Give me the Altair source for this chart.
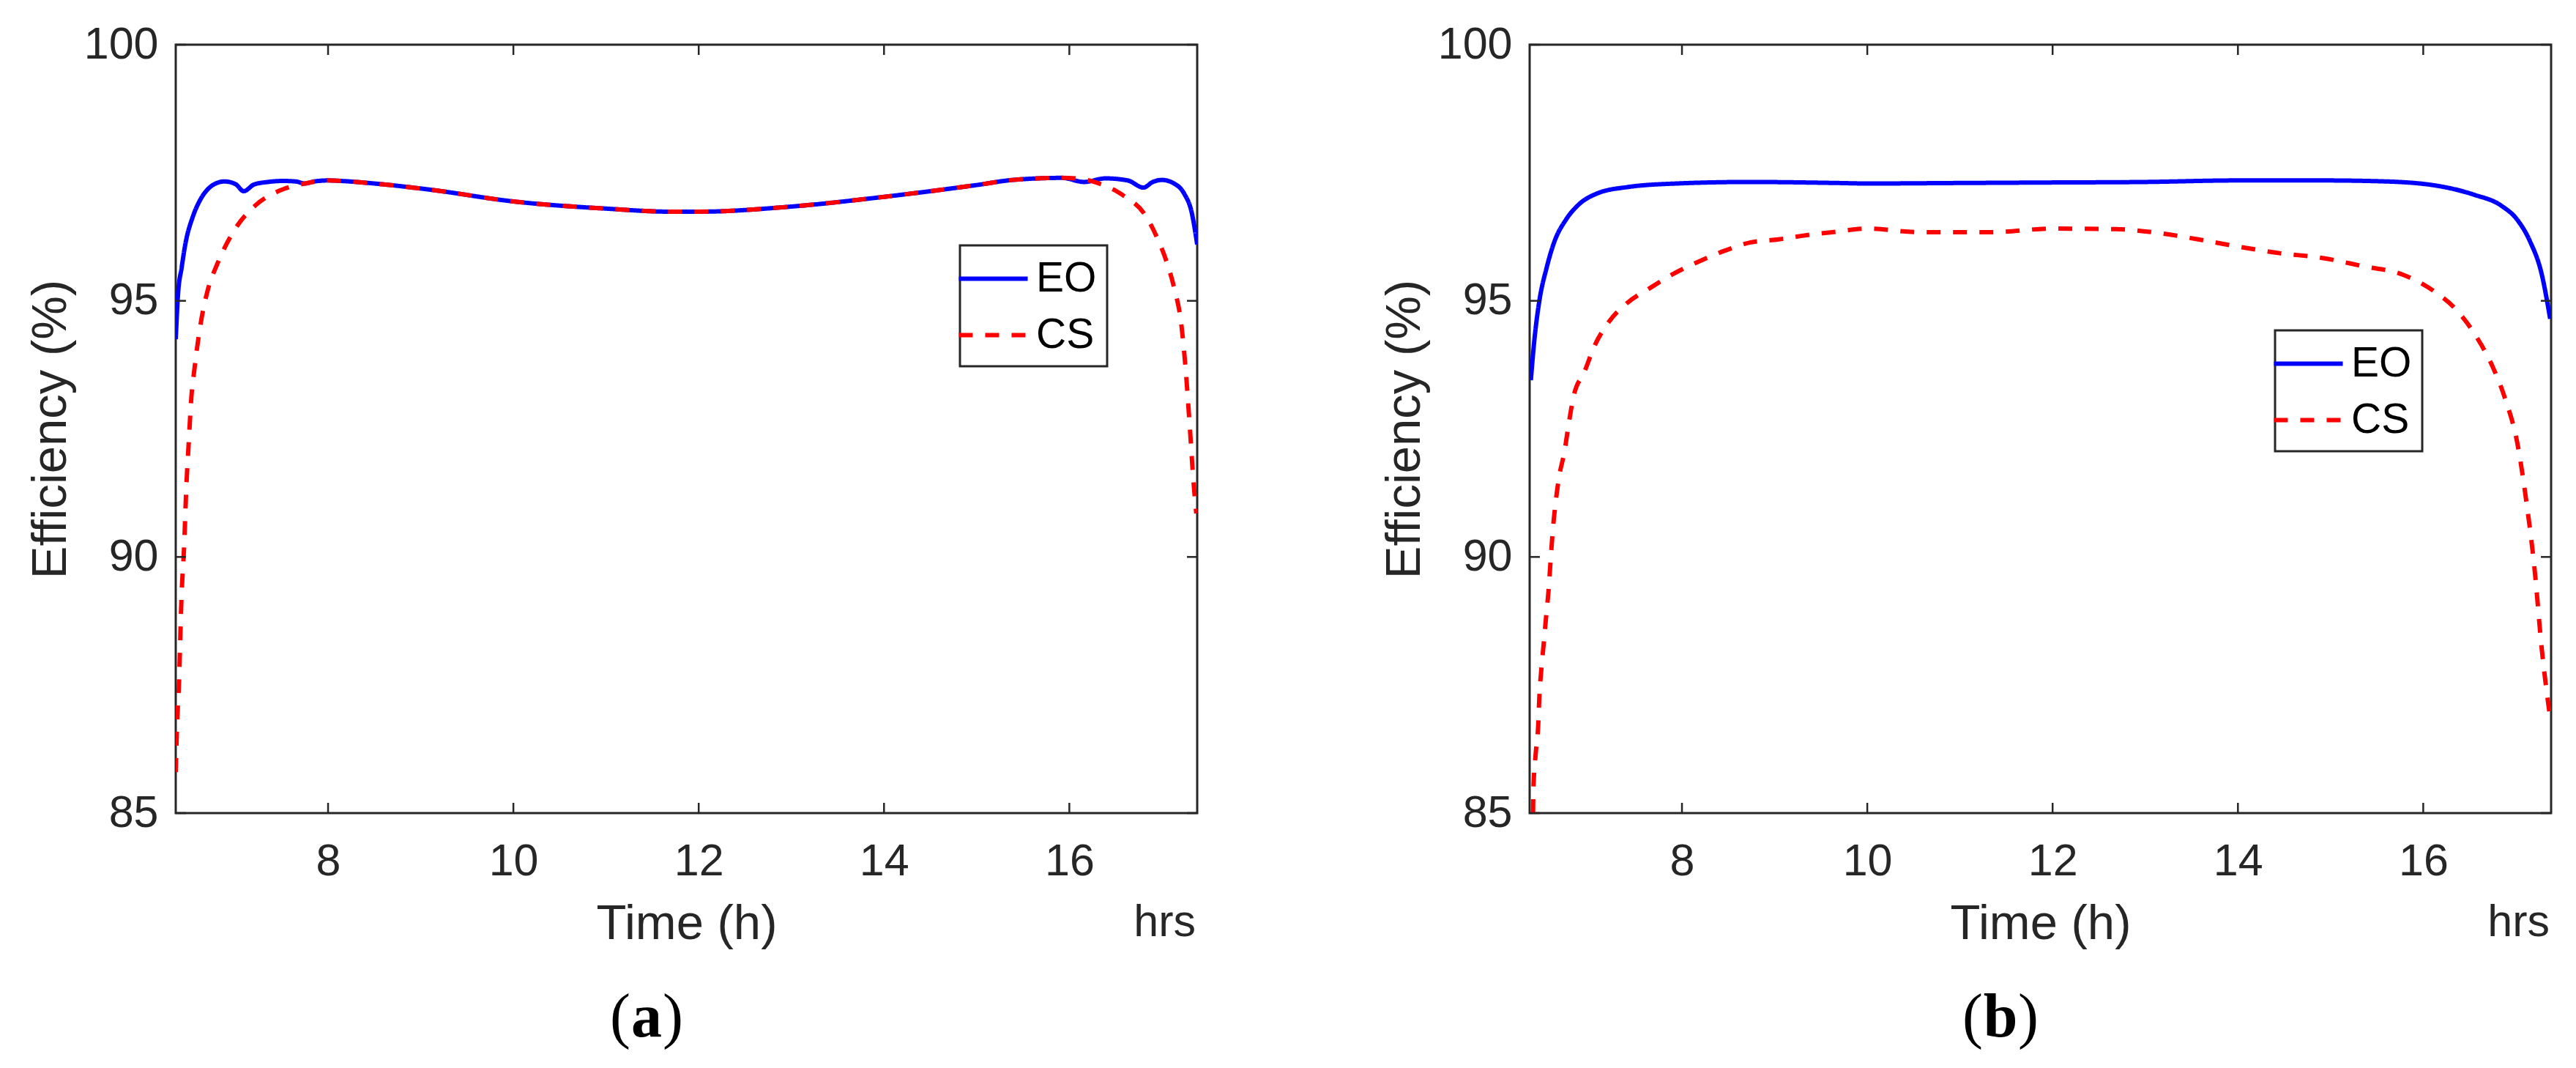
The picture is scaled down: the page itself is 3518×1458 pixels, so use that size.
import altair as alt
import pandas as pd

# ---------------- data ----------------
# panel (a)
ta_eo = [6.356, 6.38, 6.42, 6.46, 6.54, 6.62, 6.72, 6.80, 6.88, 7.00, 7.09, 7.20, 7.35, 7.51, 7.65, 7.75,
         7.85, 8.00, 8.14, 8.50, 9.10, 10.0, 11.0, 11.7, 12.0, 13.0, 14.0, 15.0, 15.39, 15.92, 16.16,
         16.39, 16.63, 16.80, 16.90, 17.00, 17.13, 17.24, 17.32, 17.38]
va_eo = [94.25, 95.11, 95.65, 96.11, 96.64, 96.97, 97.21, 97.30, 97.33, 97.28, 97.14, 97.27, 97.32, 97.34,
         97.33, 97.29, 97.33, 97.35, 97.34, 97.29, 97.17, 96.94, 96.80, 96.74, 96.74, 96.84, 97.03, 97.26,
         97.36, 97.40, 97.32, 97.39, 97.35, 97.21, 97.32, 97.36, 97.29, 97.09, 96.73, 96.10]
ta_cs = [6.356, 6.37, 6.39, 6.42, 6.445, 6.47, 6.50, 6.52, 6.56, 6.62, 6.70, 6.80, 6.91, 7.01, 7.22, 7.49,
         7.75, 8.00, 8.14, 8.50, 9.10, 10.0, 11.0, 11.7, 12.0, 13.0, 14.0, 15.0, 15.39, 15.92, 16.16, 16.32,
         16.58, 16.82, 16.95, 17.05, 17.13, 17.21, 17.26, 17.30, 17.34, 17.37]
va_cs = [85.8, 86.7, 87.5, 89.3, 90.15, 91.35, 92.35, 93.0, 93.7, 94.5, 95.2, 95.7, 96.13, 96.44, 96.87,
         97.16, 97.29, 97.35, 97.34, 97.29, 97.17, 96.94, 96.80, 96.74, 96.74, 96.84, 97.03, 97.26, 97.36,
         97.40, 97.37, 97.29, 97.06, 96.67, 96.22, 95.76, 95.26, 94.52, 93.56, 92.54, 91.47, 90.85]

# panel (b)
tb_eo = [6.369, 6.409, 6.461, 6.54, 6.62, 6.75, 6.88, 7.09, 7.41, 7.94, 8.73, 9.68, 10.0, 11.0, 12.0, 13.0,
         14.0, 14.9, 15.6, 16.2, 16.55, 16.84, 17.02, 17.15, 17.28, 17.37]
vb_eo = [93.45, 94.27, 95.00, 95.65, 96.14, 96.59, 96.87, 97.10, 97.22, 97.29, 97.32, 97.30, 97.29, 97.30,
         97.31, 97.32, 97.35, 97.35, 97.33, 97.23, 97.07, 96.86, 96.57, 96.17, 95.51, 94.65]
tb_cs = [6.393, 6.396, 6.422, 6.448, 6.461, 6.482, 6.509, 6.535, 6.562, 6.580, 6.606, 6.633, 6.672, 6.733,
         6.778, 6.830, 6.949, 7.054, 7.212, 7.41, 7.647, 7.911, 8.187, 8.464, 8.741, 9.044, 9.334, 9.623,
         10.0, 10.56, 11.35, 12.0, 12.68, 13.12, 13.57, 14.0, 14.45, 14.9, 15.34, 15.78, 16.13, 16.35,
         16.57, 16.75, 16.88, 17.02, 17.11, 17.20, 17.28, 17.37]
vb_cs = [85.0, 85.44, 86.17, 86.70, 87.27, 87.80, 88.33, 88.86, 89.39, 89.87, 90.52, 91.01, 91.54, 92.07,
         92.60, 93.13, 93.62, 94.11, 94.59, 94.96, 95.24, 95.53, 95.77, 95.98, 96.14, 96.20, 96.28, 96.34,
         96.41, 96.34, 96.34, 96.41, 96.40, 96.33, 96.20, 96.06, 95.93, 95.84, 95.68, 95.51, 95.17, 94.84,
         94.31, 93.71, 93.11, 92.18, 91.12, 89.79, 88.19, 86.86]

series_names = ["EO", "CS"]
x_ticks = [8, 10, 12, 14, 16]
y_ticks = [85, 90, 95, 100]
x_domain = [6.356, 17.38]
y_domain = [85, 100]

# ---------------- style ----------------
FONT = "Liberation Sans"
SERIF = "Liberation Serif"
AX = "#262626"
W, H = 1395, 1049
TICK_LEN = 14


def panel(t_eo, v_eo, t_cs, v_cs, letter, leg_x, leg_y):
    d_eo = pd.DataFrame({"t": t_eo, "eff": v_eo, "series": "EO"})
    d_cs = pd.DataFrame({"t": t_cs, "eff": v_cs, "series": "CS"})
    xs = alt.Scale(domain=x_domain, nice=False, zero=False)
    ys = alt.Scale(domain=y_domain, nice=False, zero=False)
    legend = alt.Legend(
        orient="none", legendX=leg_x, legendY=leg_y, title=None,
        symbolType="M-1.65,0L1.65,0", symbolSize=3249, symbolStrokeWidth=6,
        labelFont=FONT, labelFontSize=57, labelColor="black", labelOffset=27,
        strokeColor=AX, fillColor="white", padding=14, rowPadding=17,
    )
    color = alt.Color("series:N", scale=alt.Scale(domain=series_names, range=["#0000FF", "#FF0000"]),
                      legend=legend)
    dash = alt.StrokeDash("series:N", scale=alt.Scale(domain=series_names, range=[[1, 0], [19, 17]]),
                          legend=legend)
    xaxis = alt.Axis(
        values=x_ticks, ticks=False, domain=False, grid=False, title="Time (h)",
        labelFontSize=61, labelPadding=36, labelColor=AX, labelFont=FONT,
        titleFontSize=67, titleFont=FONT, titleColor=AX, titleFontWeight="normal", titlePadding=22)
    yaxis = alt.Axis(
        values=y_ticks, ticks=False, domain=False, grid=False, title="Efficiency (%)",
        labelFontSize=61, labelPadding=24, labelColor=AX, labelFont=FONT,
        titleFontSize=67, titleFont=FONT, titleColor=AX, titleFontWeight="normal", titlePadding=11)
    xenc = alt.X("t:Q", scale=xs, axis=xaxis)
    yenc = alt.Y("eff:Q", scale=ys, axis=yaxis)

    line_eo = alt.Chart(d_eo).mark_line(strokeWidth=6, interpolate="monotone", clip=True).encode(
        x=xenc, y=yenc, color=color, strokeDash=dash)
    line_cs = alt.Chart(d_cs).mark_line(strokeWidth=6, interpolate="monotone", clip=True,
                                        strokeCap="butt").encode(
        x=xenc, y=yenc, color=color, strokeDash=dash)

    xt = pd.DataFrame({"t": x_ticks})
    yt = pd.DataFrame({"eff": y_ticks})
    tick_bottom = alt.Chart(xt).mark_rule(color=AX, strokeWidth=2.5).encode(
        x=xenc, y=alt.value(H), y2=alt.value(H - TICK_LEN))
    tick_top = alt.Chart(xt).mark_rule(color=AX, strokeWidth=2.5).encode(
        x=xenc, y=alt.value(0), y2=alt.value(TICK_LEN))
    tick_left = alt.Chart(yt).mark_rule(color=AX, strokeWidth=2.5).encode(
        y=yenc, x=alt.value(0), x2=alt.value(TICK_LEN))
    tick_right = alt.Chart(yt).mark_rule(color=AX, strokeWidth=2.5).encode(
        y=yenc, x=alt.value(W - TICK_LEN), x2=alt.value(W))

    hrs = alt.Chart(pd.DataFrame({"s": ["hrs"]})).mark_text(
        align="right", baseline="alphabetic", font=FONT, fontSize=61, color=AX).encode(
        x=alt.value(W - 2), y=alt.value(1217), text="s:N")

    cx = 643
    half = 21 if letter == "a" else 23
    cap_l = alt.Chart(pd.DataFrame({"s": ["("]})).mark_text(
        align="right", baseline="alphabetic", font=SERIF, fontSize=84, color="black").encode(
        x=alt.value(cx - half - 1), y=alt.value(1354), text="s:N")
    cap_m = alt.Chart(pd.DataFrame({"s": [letter]})).mark_text(
        align="center", baseline="alphabetic", font=SERIF, fontSize=84, fontWeight="bold",
        color="black").encode(x=alt.value(cx), y=alt.value(1354), text="s:N")
    cap_r = alt.Chart(pd.DataFrame({"s": [")"]})).mark_text(
        align="left", baseline="alphabetic", font=SERIF, fontSize=84, color="black").encode(
        x=alt.value(cx + half + 1), y=alt.value(1354), text="s:N")

    return alt.layer(line_eo, line_cs, tick_bottom, tick_top, tick_left, tick_right,
                     hrs, cap_l, cap_m, cap_r).properties(width=W, height=H)


chart_a = panel(ta_eo, va_eo, ta_cs, va_cs, "a", 1071, 274)
chart_b = panel(tb_eo, vb_eo, tb_cs, vb_cs, "b", 1018, 390)

chart = alt.hconcat(chart_a, chart_b, spacing=244).resolve_scale(
    color="independent", strokeDash="independent"
).properties(
    padding={"left": 25, "top": 20, "right": 0, "bottom": 0},
    background="white",
).configure_view(
    stroke=AX, strokeWidth=3
).configure_legend(
    strokeWidth=3
)

chart.save("out.html", embed_options={"renderer": "svg", "actions": False})
